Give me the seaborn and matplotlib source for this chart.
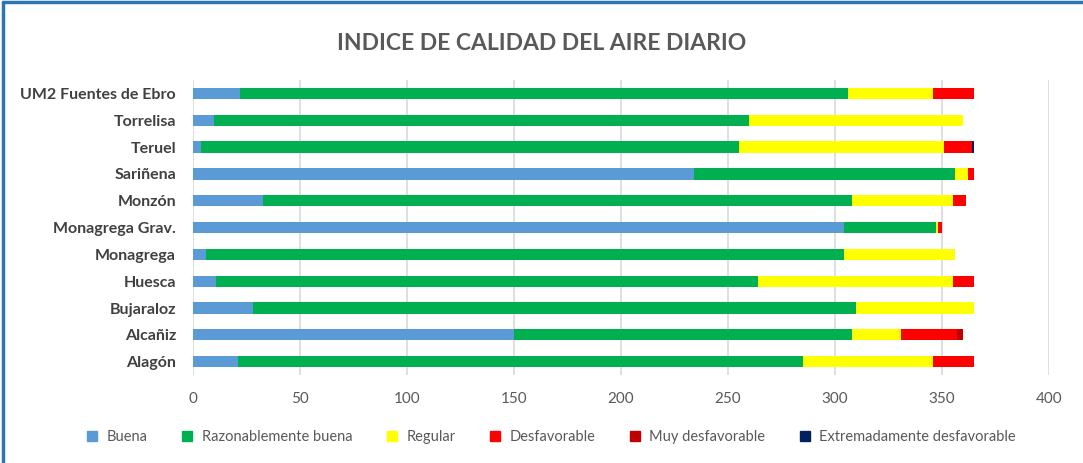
import numpy as np
import pandas as pd
import seaborn as sns
import matplotlib.pyplot as plt
from matplotlib.lines import Line2D

# estaciones (de arriba a abajo)
estaciones = ["UM2 Fuentes de Ebro", "Torrelisa", "Teruel", "Sariñena", "Monzón",
              "Monagrega Grav.", "Monagrega", "Huesca", "Bujaraloz", "Alcañiz", "Alagón"]

# días por categoría
buena = [22, 10, 4, 234, 33, 304, 6, 11, 28, 150, 21]
razonable = [284, 250, 251, 122, 275, 43, 298, 253, 282, 158, 264]
regular = [40, 100, 96, 6, 47, 1, 52, 91, 55, 23, 61]
desfavorable = [19, 0, 13, 3, 6, 2, 0, 10, 0, 26, 19]
muy_desf = [0, 0, 0, 0, 0, 0, 0, 0, 0, 3, 0]
extrem_desf = [0, 0, 1, 0, 0, 0, 0, 0, 0, 0, 0]

categorias = ["Buena", "Razonablemente buena", "Regular", "Desfavorable",
              "Muy desfavorable", "Extremadamente desfavorable"]
colores = ["#5B9BD5", "#00B050", "#FFFF00", "#FF0000", "#C00000", "#002060"]

df = pd.DataFrame(dict(zip(categorias, [buena, razonable, regular, desfavorable,
                                         muy_desf, extrem_desf])), index=estaciones)
acum = df.cumsum(axis=1)

sns.set_style("white")
plt.rcParams['font.family'] = ['Lato', 'DejaVu Sans']

fig = plt.figure(figsize=(10.83, 4.63), dpi=100)
ax = fig.add_axes([0.178, 0.19, 0.7906, 0.637])

# barras apiladas: se dibujan los acumulados de mayor a menor
for cat, col in reversed(list(zip(categorias, colores))):
    sns.barplot(x=acum[cat].values, y=estaciones, color=col, orient="h",
                width=0.42, ax=ax, saturation=1, edgecolor="none")

ax.set_xlim(0, 400)
ax.set_ylim(10.5, -0.5)
ax.set_xticks(range(0, 401, 50))
ax.xaxis.grid(True, color="#D9D9D9", linewidth=1.2)
ax.set_axisbelow(True)
for s in ax.spines.values():
    s.set_visible(False)
ax.tick_params(axis="x", length=0, labelsize=11, labelcolor="#595959", pad=12)
ax.tick_params(axis="y", length=0, labelsize=11.5, labelcolor="#404040", pad=12)
for lbl in ax.get_yticklabels():
    lbl.set_fontweight("bold")
ax.set_xlabel("")
ax.set_ylabel("")

fig.text(0.5, 0.905, "INDICE DE CALIDAD DEL AIRE DIARIO", ha="center", va="center",
         fontsize=16.5, color="#595959", fontweight="bold")

handles = [Line2D([], [], marker="s", linestyle="none", markersize=6.5,
                  markerfacecolor=c, markeredgecolor=c) for c in colores]
fig.legend(handles, categorias, loc="center", bbox_to_anchor=(0.505, 0.056), ncol=6,
           frameon=False, fontsize=10.5, labelcolor="#595959", handletextpad=0.0,
           columnspacing=1.7)

# borde del gráfico (izquierda y arriba)
fig.add_artist(Line2D([0.003, 0.003], [0, 0.996], color="#2E75B6", linewidth=2.5,
                      transform=fig.transFigure))
fig.add_artist(Line2D([0.003, 1], [0.996, 0.996], color="#2E75B6", linewidth=2.5,
                      transform=fig.transFigure))

fig.savefig("out.png", dpi=100)
